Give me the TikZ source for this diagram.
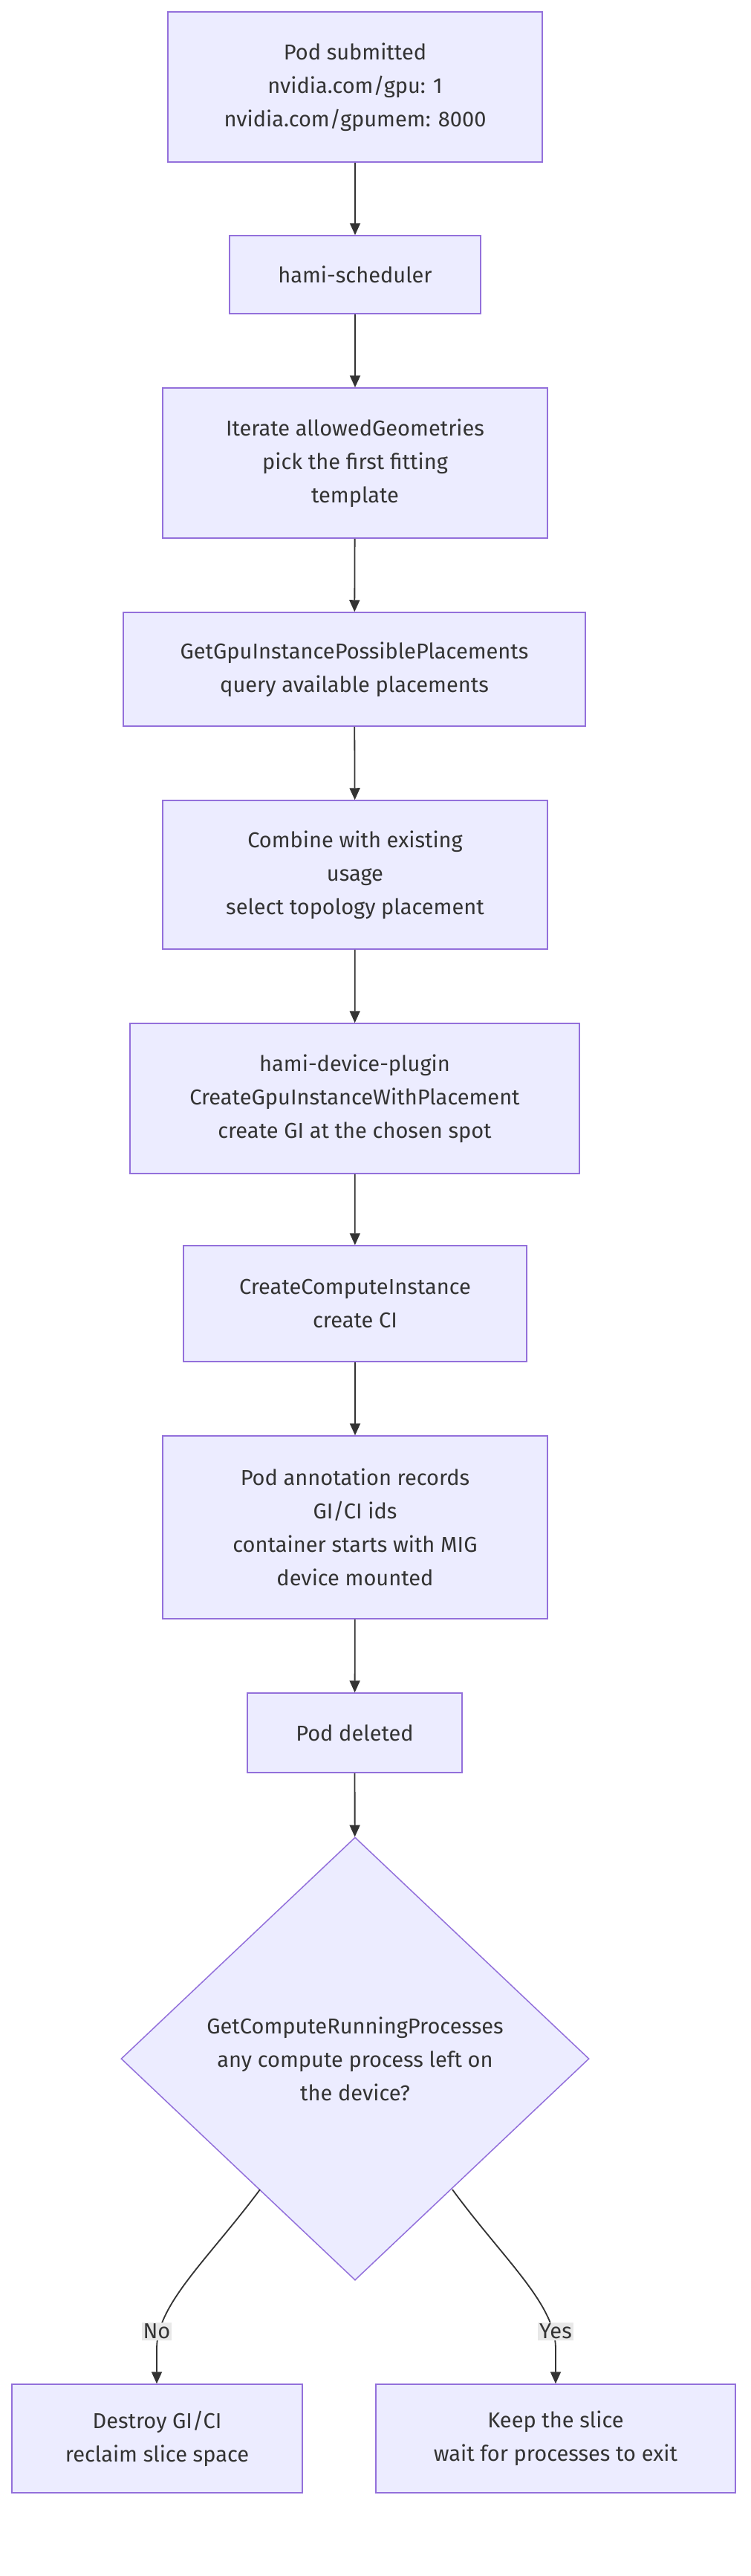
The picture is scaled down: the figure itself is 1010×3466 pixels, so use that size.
\documentclass[tikz,border=0pt]{standalone}
\usepackage{fontspec}
\setmainfont{Fira Sans}
\usetikzlibrary{shapes.geometric,arrows.meta}
\definecolor{bx}{HTML}{ECECFF}
\definecolor{bd}{HTML}{9370DB}
\definecolor{ln}{HTML}{333333}
\tikzset{
 bxs/.style={draw=bd,fill=bx,line width=1.5pt,align=center,text=ln,inner sep=0pt,
   font=\fontsize{29}{45}\selectfont},
 arr/.style={draw=ln,line width=1.8pt,-{Triangle[length=16pt,width=14pt]}},
 lbl/.style={fill=black!9,text=ln,inner sep=2pt,font=\fontsize{29}{36}\selectfont}
}
\begin{document}
\begin{tikzpicture}[x=1pt,y=-1pt]
\useasboundingbox (0,0) rectangle (1010,3466);
\def\bx#1#2#3#4#5#6{\node[bxs,minimum width=#3-#2,minimum height=#5-#4] (#1) at ({(#2+#3)/2},{(#4+#5)/2}) {#6};}
\bx{a}{226}{730}{16}{218}{Pod submitted\\nvidia.com/gpu: 1\\nvidia.com/gpumem: 8000}
\bx{b}{309}{647}{317}{422}{hami-scheduler}
\bx{c}{219}{737}{522}{724}{Iterate allowedGeometries\\pick the first fitting\\template}
\bx{d}{166}{788}{824}{977}{GetGpuInstancePossiblePlacements\\query available placements}
\bx{e}{219}{737}{1077}{1277}{Combine with existing\\usage\\select topology placement}
\bx{f}{175}{780}{1377}{1579}{hami-device-plugin\\CreateGpuInstanceWithPlacement\\create GI at the chosen spot}
\bx{g}{247}{709}{1676}{1832}{CreateComputeInstance\\create CI}
\bx{h}{219}{737}{1932}{2178}{Pod annotation records\\GI/CI ids\\container starts with MIG\\device mounted}
\bx{i}{333}{622}{2278}{2385}{Pod deleted}
\node[bxs,shape=diamond,minimum width=630pt,minimum height=596pt] (j) at (478,2770)
 {GetComputeRunningProcesses\\any compute process left on\\the device?};
\bx{k}{16}{407}{3208}{3354}{Destroy GI/CI\\reclaim slice space}
\bx{l}{506}{990}{3208}{3354}{Keep the slice\\wait for processes to exit}
\foreach \u/\v in {a/b,b/c,c/d,d/e,e/f,f/g,g/h,h/i,i/j} \draw[arr] (\u) -- (\v);
\coordinate (n0) at (350,2946);
\coordinate (y0) at (609,2946);
\draw[arr] (n0) .. controls (280,3040) and (211,3100) .. (211,3160) -- (k.north -| 211,0);
\draw[arr] (y0) .. controls (678,3040) and (748,3100) .. (748,3160) -- (l.north -| 748,0);
\node[lbl] (nl) at (211,3137) {No};
\node[lbl] (yl) at (748,3137) {Yes};
\end{tikzpicture}
\end{document}
